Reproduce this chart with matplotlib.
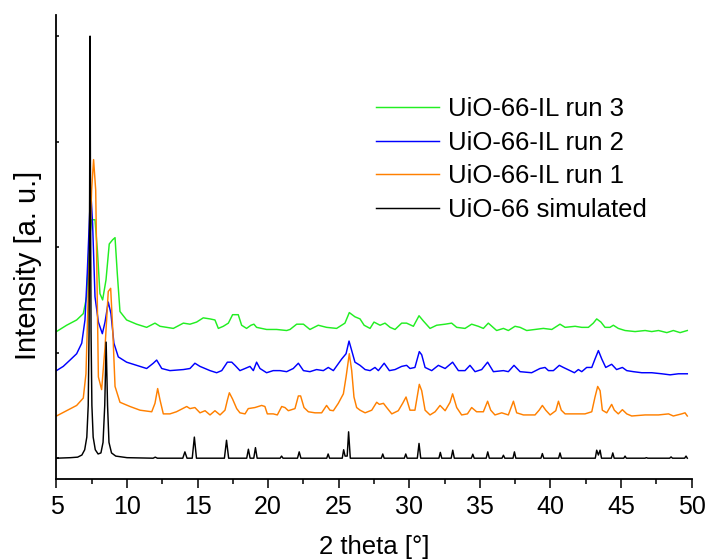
"""XRD patterns of UiO-66 (simulated) and three UiO-66-IL runs, stacked."""
import matplotlib
matplotlib.use("Agg")
import matplotlib.pyplot as plt
from matplotlib.ticker import MultipleLocator

plt.rcParams["font.family"] = ["Liberation Sans", "DejaVu Sans"]

# values (2 theta in degrees, intensity in stacked a.u.)
sim_x = [5.0, 6.0, 6.5, 6.8, 7.0, 7.15, 7.25, 7.31, 7.35, 7.38, 7.41, 7.45, 7.51, 7.6, 7.75,
         7.95, 8.15, 8.3, 8.42, 8.52, 8.62, 8.72, 8.9, 9.2, 10.0,
         11.85, 12.0, 12.15, 13.95, 14.1, 14.25, 14.62, 14.77, 14.92,
         16.9, 17.05, 17.2, 18.48, 18.6, 18.72, 18.98, 19.1, 19.22,
         20.85, 20.95, 21.05, 22.08, 22.2, 22.32, 24.15, 24.25, 24.35,
         25.25, 25.35, 25.45, 25.6, 25.7, 25.82, 28.02, 28.12, 28.22,
         29.65, 29.75, 29.85, 30.57, 30.69, 30.81, 32.1, 32.2, 32.3,
         32.97, 33.08, 33.19, 34.4, 34.5, 34.6, 35.45, 35.56, 35.67,
         36.57, 36.67, 36.77, 37.35, 37.45, 37.55, 39.33, 39.43, 39.53,
         40.58, 40.68, 40.78, 43.18, 43.28, 43.4, 43.52, 43.62,
         44.32, 44.42, 44.52, 45.2, 45.29, 45.38, 46.7, 46.8, 46.9,
         48.45, 48.55, 48.65, 49.51, 49.61, 49.7]
sim_y = [0.0, 0.005, 0.01, 0.03, 0.08, 0.2, 0.5, 1.2, 2.5, 4.0, 2.5, 1.2, 0.5, 0.2, 0.08,
         0.04, 0.05, 0.15, 0.5, 1.1, 0.5, 0.15, 0.05, 0.02, 0.005,
         0.0, 0.01, 0.0, 0.0, 0.06, 0.0, 0.0, 0.2, 0.0,
         0.0, 0.17, 0.0, 0.0, 0.085, 0.0, 0.0, 0.1, 0.0,
         0.0, 0.02, 0.0, 0.0, 0.06, 0.0, 0.0, 0.04, 0.0,
         0.0, 0.08, 0.02, 0.02, 0.25, 0.0, 0.0, 0.04, 0.0,
         0.0, 0.04, 0.0, 0.0, 0.14, 0.0, 0.0, 0.055, 0.0,
         0.0, 0.076, 0.0, 0.0, 0.038, 0.0, 0.0, 0.06, 0.0,
         0.0, 0.028, 0.0, 0.0, 0.06, 0.0, 0.0, 0.044, 0.0,
         0.0, 0.05, 0.0, 0.0, 0.076, 0.03, 0.076, 0.0,
         0.0, 0.05, 0.0, 0.0, 0.02, 0.0, 0.0, 0.005, 0.0,
         0.0, 0.012, 0.0, 0.0, 0.02, 0.0]

run1_x = [5.0, 5.72, 6.43, 6.9, 7.09, 7.26, 7.49, 7.63, 7.78, 7.97, 8.2, 8.44, 8.67, 8.84,
          8.98, 9.15, 9.5, 10.21, 10.92, 11.75, 11.98, 12.17, 12.34, 12.57, 13.04, 13.5,
          14.23, 14.46, 14.81, 15.17, 15.53, 15.88, 16.23, 16.59, 16.94, 17.11, 17.25,
          17.48, 17.77, 18.0, 18.36, 18.59, 19.06, 19.54, 19.77, 19.94, 20.36, 20.65,
          20.96, 21.19, 21.43, 21.9, 22.14, 22.3, 22.54, 22.85, 23.32, 23.79, 24.14,
          24.38, 24.62, 24.97, 25.33, 25.52, 25.75, 25.92, 26.08, 26.27, 26.51, 26.87,
          27.34, 27.69, 27.88, 28.17, 28.4, 28.76, 29.22, 29.53, 29.77, 30.05, 30.4,
          30.71, 30.88, 31.12, 31.47, 31.83, 32.18, 32.54, 32.89, 33.07, 33.36, 33.71,
          34.12, 34.42, 34.77, 35.25, 35.55, 35.77, 36.07, 36.55, 37.02, 37.38, 37.61,
          38.09, 38.91, 39.2, 39.43, 39.67, 39.98, 40.38, 40.57, 40.77, 41.04, 41.75,
          42.45, 42.93, 43.16, 43.35, 43.52, 43.68, 43.99, 44.34, 44.53, 44.81, 45.1,
          45.41, 45.76, 46.71, 47.66, 48.37, 48.71, 49.3, 49.54, 49.7]
run1_y = [0.40, 0.45, 0.50, 0.57, 0.80, 1.59, 2.54, 2.83, 2.54, 0.77, 0.65, 1.05, 1.58, 1.61,
          1.24, 0.68, 0.53, 0.49, 0.455, 0.44, 0.52, 0.66, 0.55, 0.42, 0.42, 0.44,
          0.49, 0.47, 0.48, 0.43, 0.45, 0.41, 0.45, 0.41, 0.455, 0.55, 0.62,
          0.56, 0.47, 0.43, 0.42, 0.47, 0.48, 0.50, 0.49, 0.42, 0.42, 0.41,
          0.49, 0.48, 0.45, 0.47, 0.59, 0.59, 0.48, 0.44, 0.43, 0.43, 0.50,
          0.455, 0.45, 0.52, 0.61, 0.77, 0.99, 0.83, 0.58, 0.48, 0.455, 0.43,
          0.455, 0.53, 0.51, 0.52, 0.48, 0.42, 0.45, 0.52, 0.58, 0.455, 0.455,
          0.70, 0.64, 0.455, 0.41, 0.44, 0.50, 0.45, 0.53, 0.61, 0.48, 0.41,
          0.42, 0.48, 0.44, 0.44, 0.54, 0.455, 0.41, 0.43, 0.41, 0.54, 0.43,
          0.41, 0.41, 0.455, 0.50, 0.455, 0.41, 0.45, 0.54, 0.455, 0.42, 0.42,
          0.42, 0.44, 0.58, 0.68, 0.64, 0.455, 0.43, 0.51, 0.455, 0.42, 0.46,
          0.42, 0.40, 0.41, 0.41, 0.42, 0.40, 0.42, 0.43, 0.40]

run2_x = [5.0, 5.48, 5.96, 6.43, 6.79, 7.02, 7.18, 7.37, 7.44, 7.56, 7.73, 7.97, 8.25, 8.44,
          8.67, 8.86, 9.07, 9.38, 9.97, 10.68, 11.39, 11.86, 12.1, 12.46, 13.04, 13.99,
          14.46, 14.81, 15.17, 15.88, 16.35, 16.71, 17.11, 17.42, 17.65, 18.0, 18.36,
          18.71, 18.95, 19.18, 19.42, 19.89, 20.36, 20.84, 21.31, 21.78, 22.14, 22.5,
          22.96, 23.43, 23.91, 24.26, 24.62, 25.21, 25.52, 25.73, 25.92, 26.15, 26.51,
          26.87, 27.22, 27.57, 27.81, 28.22, 28.59, 28.99, 29.46, 29.81, 30.05, 30.4,
          30.71, 30.88, 31.12, 31.59, 32.06, 32.54, 33.07, 33.48, 33.95, 34.3, 34.66,
          35.13, 35.55, 35.96, 36.67, 37.02, 37.42, 37.85, 38.67, 39.26, 39.62, 39.86,
          40.21, 40.63, 40.92, 41.39, 41.7, 41.98, 42.22, 42.57, 42.93, 43.16, 43.4,
          43.64, 43.92, 44.34, 44.69, 45.1, 45.41, 45.88, 46.47, 47.18, 47.89, 48.48,
          49.07, 49.7]
run2_y = [0.83, 0.87, 0.93, 0.99, 1.09, 1.31, 1.75, 2.38, 2.51, 2.22, 1.53, 1.29, 1.18, 1.29,
          1.48, 1.37, 1.09, 0.96, 0.91, 0.88, 0.85, 0.90, 0.93, 0.85, 0.83, 0.84,
          0.85, 0.90, 0.87, 0.83, 0.81, 0.83, 0.91, 0.91, 0.88, 0.83, 0.85,
          0.87, 0.83, 0.91, 0.85, 0.81, 0.83, 0.83, 0.82, 0.85, 0.90, 0.83,
          0.82, 0.84, 0.83, 0.86, 0.83, 0.94, 0.99, 1.11, 1.02, 0.91, 0.88,
          0.84, 0.83, 0.86, 0.83, 0.90, 0.83, 0.84, 0.87, 0.88, 0.85, 0.86,
          1.01, 0.98, 0.86, 0.83, 0.88, 0.85, 0.91, 0.83, 0.83, 0.88, 0.82,
          0.84, 0.91, 0.82, 0.83, 0.82, 0.88, 0.82, 0.81, 0.85, 0.86, 0.83,
          0.83, 0.88, 0.86, 0.83, 0.81, 0.84, 0.82, 0.86, 0.86, 0.94, 1.02,
          0.94, 0.86, 0.89, 0.84, 0.86, 0.83, 0.82, 0.81, 0.81, 0.80, 0.79,
          0.80, 0.80]

run3_x = [5.0, 5.72, 6.43, 6.9, 7.14, 7.33, 7.49, 7.73, 7.9, 8.08, 8.27, 8.51, 8.74, 8.98,
          9.15, 9.31, 9.5, 9.97, 10.68, 11.39, 11.98, 12.34, 13.28, 13.99, 14.46, 14.93,
          15.4, 15.88, 16.23, 16.47, 16.82, 17.18, 17.48, 17.88, 18.12, 18.47, 18.78,
          18.99, 19.18, 19.89, 20.6, 21.31, 21.55, 22.02, 22.5, 22.96, 23.55, 24.14,
          24.85, 25.44, 25.75, 26.15, 26.51, 26.8, 27.22, 27.5, 27.93, 28.28, 28.64,
          28.99, 29.46, 29.81, 30.29, 30.69, 31.0, 31.47, 31.94, 32.54, 33.0, 33.36,
          33.95, 34.42, 34.89, 35.25, 35.6, 36.19, 36.67, 37.02, 37.49, 37.85, 38.32,
          38.91, 39.5, 40.1, 40.33, 40.68, 41.04, 41.75, 42.22, 42.69, 43.04, 43.28,
          43.58, 43.87, 44.22, 44.46, 44.81, 45.29, 46.0, 46.71, 47.18, 47.66, 48.25,
          48.71, 49.19, 49.7]
run3_y = [1.20, 1.26, 1.31, 1.37, 1.53, 2.07, 2.26, 2.26, 1.97, 1.56, 1.50, 1.69, 2.03, 2.07,
          2.09, 1.75, 1.39, 1.31, 1.27, 1.24, 1.28, 1.25, 1.23, 1.28, 1.27, 1.29,
          1.33, 1.32, 1.31, 1.23, 1.25, 1.28, 1.36, 1.36, 1.26, 1.23, 1.26,
          1.27, 1.24, 1.22, 1.22, 1.21, 1.22, 1.27, 1.27, 1.22, 1.26, 1.24,
          1.23, 1.28, 1.38, 1.34, 1.32, 1.26, 1.23, 1.29, 1.26, 1.28, 1.24,
          1.22, 1.28, 1.28, 1.25, 1.35, 1.30, 1.23, 1.26, 1.27, 1.28, 1.24,
          1.23, 1.27, 1.25, 1.23, 1.28, 1.21, 1.23, 1.21, 1.25, 1.24, 1.21,
          1.22, 1.23, 1.22, 1.24, 1.27, 1.24, 1.25, 1.24, 1.24, 1.28, 1.32,
          1.29, 1.24, 1.24, 1.26, 1.23, 1.21, 1.20, 1.21, 1.20, 1.21, 1.19,
          1.21, 1.19, 1.21]

labels = ["UiO-66-IL run 3", "UiO-66-IL run 2", "UiO-66-IL run 1", "UiO-66 simulated"]
colors = ["#22ee22", "#0000ff", "#ff8000", "#000000"]

fig = plt.figure(figsize=(7.05, 5.6), dpi=100)
ax = fig.add_axes([0.0801, 0.1441, 0.9008, 0.8291])

series = [(run3_x, run3_y), (run2_x, run2_y), (run1_x, run1_y), (sim_x, sim_y)]
for (xs, ys), lab, col in zip(series, labels, colors):
    ax.plot(xs, ys, color=col, linewidth=1.05, label=lab)

ax.set_xlim(5, 50)
ax.set_ylim(-0.2, 4.2)
ax.xaxis.set_major_locator(MultipleLocator(5))
ax.xaxis.set_minor_locator(MultipleLocator(2.5))
ax.yaxis.set_major_locator(MultipleLocator(1))
ax.tick_params(axis="x", which="major", direction="out", length=6.5, width=1.1,
               labelsize=18, pad=5)
ax.tick_params(axis="x", which="minor", direction="out", length=3.5, width=1.1)
ax.tick_params(axis="y", which="major", direction="in", length=2, width=1.1,
               labelleft=False)
for side in ("top", "right"):
    ax.spines[side].set_visible(False)
for side in ("left", "bottom"):
    ax.spines[side].set_linewidth(1.3)

ax.set_xlabel("2 theta [°]", fontsize=18.5)
ax.xaxis.label.set_va("center")
ax.xaxis.set_label_coords(0.5, -0.145)
ax.set_ylabel("Intensity [a. u.]", fontsize=21)
ax.yaxis.label.set_va("center")
ax.yaxis.set_label_coords(-0.045, 0.46)

ax.legend(loc="upper left", bbox_to_anchor=(376 / 705, 1 - 97 / 560),
          bbox_transform=fig.transFigure, frameon=False, fontsize=18.5,
          handlelength=2.45, handletextpad=0.35, labelspacing=0.37,
          borderpad=0, borderaxespad=0)

fig.savefig("out.png", dpi=100)
